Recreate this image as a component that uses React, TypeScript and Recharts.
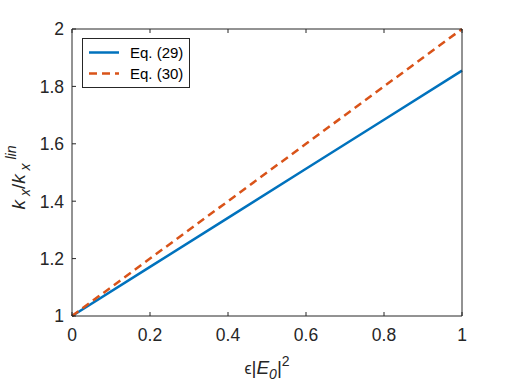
import { LineChart, Line, XAxis, YAxis, Legend } from 'recharts'

// values
const xValues = [0, 0.2, 0.4, 0.6, 0.8, 1]
const eq29 = [1, 1.171, 1.342, 1.513, 1.684, 1.855]
const eq30 = [1, 1.2, 1.4, 1.6, 1.8, 2]
const xTicks = [0, 0.2, 0.4, 0.6, 0.8, 1]
const yTicks = [1, 1.2, 1.4, 1.6, 1.8, 2]
const seriesNames = ['Eq. (29)', 'Eq. (30)']
const seriesColors = ['#0072BD', '#D95319']
const seriesDash = ['', '8 5']

const data = xValues.map((x, i) => ({ x, eq29: eq29[i], eq30: eq30[i] }))

const FONT = '"Liberation Sans", Helvetica, Arial, sans-serif'
const INK = '#262626'
const TICK_LEN = 4

function BottomTick({ x, y, payload }: any) {
  return (
    <g>
      <line x1={x} y1={y} x2={x} y2={y - TICK_LEN} stroke={INK} />
      <text x={x} y={y + 25} textAnchor="middle" fontSize={17.5} fontFamily={FONT} fill={INK}>
        {String(payload.value)}
      </text>
    </g>
  )
}

function TopTick({ x, y }: any) {
  return <line x1={x} y1={y} x2={x} y2={y + TICK_LEN} stroke={INK} />
}

function LeftTick({ x, y, payload }: any) {
  return (
    <g>
      <line x1={x} y1={y} x2={x + TICK_LEN} y2={y} stroke={INK} />
      <text x={x - 8} y={y} dy="0.36em" textAnchor="end" fontSize={17.5} fontFamily={FONT} fill={INK}>
        {String(payload.value)}
      </text>
    </g>
  )
}

function RightTick({ x, y }: any) {
  return <line x1={x} y1={y} x2={x - TICK_LEN} y2={y} stroke={INK} />
}

function XLabel({ viewBox }: any) {
  const cx = viewBox.x + viewBox.width / 2
  const cy = viewBox.y + 58
  return (
    <text x={cx} y={cy} textAnchor="middle" fontSize={19} fontFamily={FONT} fill={INK}>
      <tspan fontSize={16}>ϵ</tspan>
      <tspan>|</tspan>
      <tspan fontStyle="italic">E</tspan>
      <tspan fontStyle="italic" fontSize={14} dy={5}>0</tspan>
      <tspan dy={-5}>|</tspan>
      <tspan fontSize={14} dy={-8}>2</tspan>
    </text>
  )
}

function YLabel({ viewBox }: any) {
  const cx = 25
  const cy = viewBox.y + viewBox.height / 2 + 5
  return (
    <text
      x={cx}
      y={cy}
      transform={`rotate(-90, ${cx}, ${cy})`}
      textAnchor="middle"
      fontSize={19}
      fontFamily={FONT}
      fill={INK}
    >
      <tspan fontStyle="italic">k</tspan>
      <tspan fontStyle="italic" fontSize={14} dy={5}> x</tspan>
      <tspan dy={-5}>/</tspan>
      <tspan fontStyle="italic">k</tspan>
      <tspan fontStyle="italic" fontSize={14} dy={5}> x</tspan>
      <tspan fontStyle="italic" fontSize={14} dy={-14}> lin</tspan>
    </text>
  )
}

function LegendBox() {
  return (
    <div
      style={{
        border: `1px solid ${INK}`,
        background: '#fff',
        padding: '3px 6px 3px 5px',
        fontFamily: FONT,
        fontSize: 15,
        color: '#000',
        lineHeight: '21px',
      }}
    >
      {seriesNames.map((name, i) => (
        <div key={name} style={{ display: 'flex', alignItems: 'center' }}>
          <svg width={36} height={21} style={{ marginRight: 6 }}>
            <line
              x1={1}
              y1={10.5}
              x2={31}
              y2={10.5}
              stroke={seriesColors[i]}
              strokeWidth={2.5}
              strokeDasharray={seriesDash[i] || undefined}
            />
          </svg>
          <span>{name}</span>
        </div>
      ))}
    </div>
  )
}

export default function App() {
  return (
    <div style={{ position: 'absolute', left: 0, top: 0, width: 512, height: 384, background: '#fff' }}>
      <LineChart width={512} height={384} data={data} margin={{ top: 28, right: 49, left: 0, bottom: 0 }}>
        <XAxis
          xAxisId="b"
          dataKey="x"
          type="number"
          domain={[0, 1]}
          ticks={xTicks}
          height={68}
          tickSize={0}
          tickMargin={0}
          tickLine={false}
          axisLine={{ stroke: INK }}
          tick={<BottomTick />}
          interval={0}
          label={<XLabel />}
        />
        <XAxis
          xAxisId="t"
          orientation="top"
          dataKey="x"
          type="number"
          domain={[0, 1]}
          ticks={xTicks}
          height={1}
          tickSize={0}
          tickMargin={0}
          tickLine={false}
          axisLine={{ stroke: INK }}
          tick={<TopTick />}
          interval={0}
        />
        <YAxis
          yAxisId="l"
          type="number"
          domain={[1, 2]}
          ticks={yTicks}
          width={72}
          tickSize={0}
          tickMargin={0}
          tickLine={false}
          axisLine={{ stroke: INK }}
          tick={<LeftTick />}
          interval={0}
          label={<YLabel />}
        />
        <YAxis
          yAxisId="r"
          orientation="right"
          type="number"
          domain={[1, 2]}
          ticks={yTicks}
          width={1}
          tickSize={0}
          tickMargin={0}
          tickLine={false}
          axisLine={{ stroke: INK }}
          tick={<RightTick />}
          interval={0}
        />
        <Legend
          layout="vertical"
          align="center"
          verticalAlign="middle"
          content={<LegendBox />}
          wrapperStyle={{ left: 82, top: 38, width: 'auto' }}
        />
        <Line
          xAxisId="b"
          yAxisId="l"
          dataKey="eq29"
          name={seriesNames[0]}
          stroke={seriesColors[0]}
          strokeWidth={2.5}
          dot={false}
          type="linear"
          isAnimationActive={false}
        />
        <Line
          xAxisId="b"
          yAxisId="l"
          dataKey="eq30"
          name={seriesNames[1]}
          stroke={seriesColors[1]}
          strokeWidth={2.5}
          strokeDasharray={seriesDash[1]}
          dot={false}
          type="linear"
          isAnimationActive={false}
        />
      </LineChart>
    </div>
  )
}
